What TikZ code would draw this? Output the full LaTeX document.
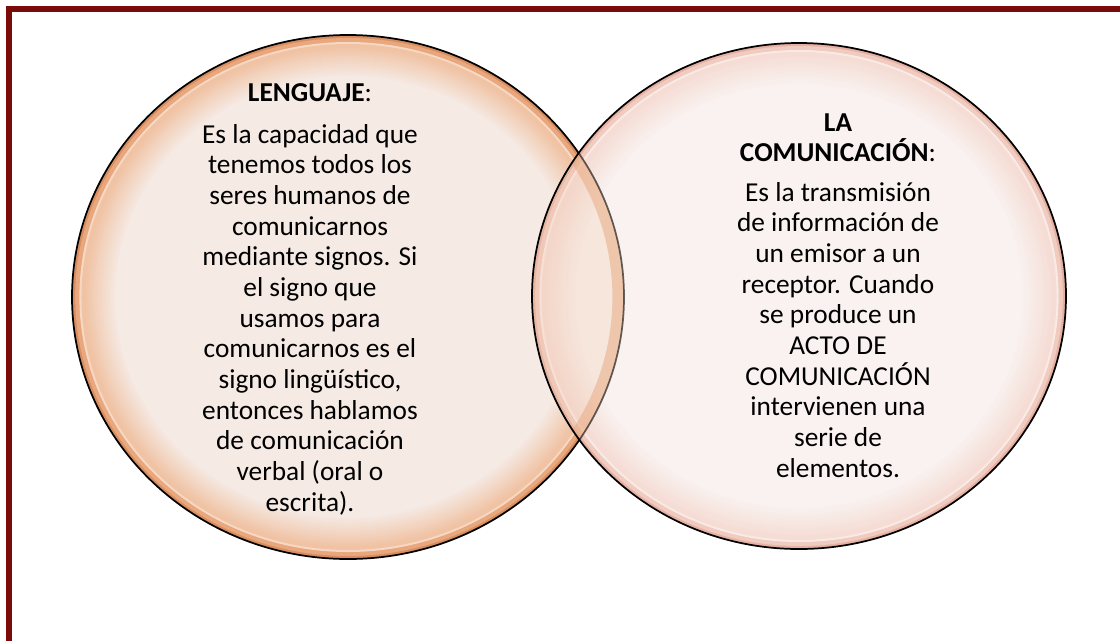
\documentclass[tikz,border=0pt]{standalone}
\usepackage{fontspec}
\setmainfont{Carlito}
\definecolor{marco}{HTML}{7A0B0B}
\definecolor{izqcentro}{HTML}{F5EAE4}
\definecolor{izqmedio}{HTML}{F0C3A4}
\definecolor{izqbrillo}{HTML}{F6D8C4}
\definecolor{izqborde}{HTML}{E8A77C}
\definecolor{izqoscuro}{HTML}{D88E60}
\definecolor{dercentro}{HTML}{F9F2F0}
\definecolor{dermedio}{HTML}{F5DDD5}
\definecolor{derbrillo}{HTML}{FAEAE5}
\definecolor{derborde}{HTML}{F0CBC0}
\definecolor{deroscuro}{HTML}{E6B1A3}
\begin{document}
\begin{tikzpicture}[x=0.75pt,y=-0.75pt,
    texto/.style={align=center,inner sep=0pt,anchor=north,font=\fontsize{20.5}{23}\selectfont},
    contorno/.style={draw=black,line width=1.3pt}]
    \useasboundingbox (0,0) rectangle (1120,640);
    \clip (0,0) rectangle (1120,640);
    \fill[white] (0,0) rectangle (1120,640);
    \draw[marco,line width=4.5pt] (9,700) -- (9,9) -- (1200,9);
    % circulo izquierdo
    \begin{scope}[shift={(348,297)},xscale=1.0534]
        \fill[izqoscuro] (0,0) circle (262);
        \fill[izqborde] (0,0) circle (259);
        \fill[izqbrillo] (0,0) circle (255);
        \fill[izqmedio] (0,0) circle (253);
        \foreach \k in {0,...,15}{
            \pgfmathtruncatemacro\p{\k*100/15}
            \fill[izqcentro!\p!izqmedio] (0,0) circle (251-2*\k);
        }
        \draw[contorno] (0,0) circle (262);
    \end{scope}
    % circulo derecho
    \begin{scope}[shift={(799,296)},xscale=1.0553]
        \fill[deroscuro] (0,0) circle (253);
        \fill[derborde] (0,0) circle (250);
        \fill[derbrillo] (0,0) circle (246);
        \fill[dermedio] (0,0) circle (244);
        \foreach \k in {0,...,15}{
            \pgfmathtruncatemacro\p{\k*100/15}
            \fill[dercentro!\p!dermedio] (0,0) circle (242-2*\k);
        }
    \end{scope}
    % borde izquierdo visto a traves del derecho
    \begin{scope}
        \clip[shift={(799,296)},xscale=1.0553] (0,0) circle (253);
        \fill[izqmedio,opacity=.25,shift={(348,297)},xscale=1.0534] (0,0) circle (262);
        \fill[izqborde,opacity=.5,even odd rule,shift={(348,297)},xscale=1.0534]
            (0,0) circle (262) (0,0) circle (251);
        \draw[contorno,opacity=.6,shift={(348,297)},xscale=1.0534] (0,0) circle (262);
    \end{scope}
    \draw[contorno,shift={(799,296)},xscale=1.0553] (0,0) circle (253);
    \node[texto] (lenguaje) at (310,83) {\textbf{LENGUAJE}:\\[8.5pt]
        Es la capacidad que\\ tenemos todos los\\ seres humanos de\\ comunicarnos\\
        mediante signos. Si\\ el signo que\\ usamos para\\ comunicarnos es el\\
        signo lingüístico,\\ entonces hablamos\\ de comunicación\\ verbal (oral o\\ escrita).};
    \node[texto] (comunicacion) at (838,113) {\textbf{LA}\\ \textbf{COMUNICACIÓN}:\\[6.5pt]
        Es la transmisión\\ de información de\\ un emisor a un\\ receptor. Cuando\\
        se produce un\\ ACTO DE\\ COMUNICACIÓN\\ intervienen una\\ serie de\\ elementos.};
\end{tikzpicture}
\end{document}
